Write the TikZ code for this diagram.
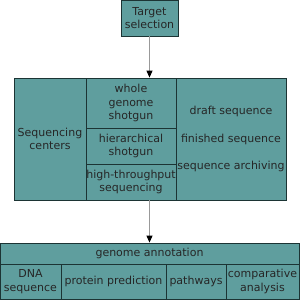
\documentclass[tikz,border=0pt]{standalone}
\usepackage{fontspec}
\setmainfont{DejaVu Sans}
\usepackage{xcolor}
\usetikzlibrary{arrows.meta,positioning}
\definecolor{boxfill}{RGB}{95,158,158}
\definecolor{boxline}{RGB}{28,52,52}

\begin{document}
\begin{tikzpicture}[
  x=1pt, y=-1pt,
  every node/.style={font=\fontsize{11}{13.5}\selectfont, text=black!85},
  cell/.style={draw=boxline, fill=boxfill, line width=0.8pt, inner sep=0pt,
               align=center, anchor=center},
  arr/.style={draw=gray!80, line width=1pt,
              -{Triangle[length=7pt, width=6pt, black]}},
]
\useasboundingbox (0,0) rectangle (300,301);
% top
\node[cell, minimum width=57, minimum height=36] (target) at (149.5,18) {Target\\selection};
% sequencing block
\node[cell, minimum width=72, minimum height=122] (centers) at (50,139) {Sequencing\\centers};
\node[cell, minimum width=90, minimum height=50] (wgs) at (131,103) {whole\\genome\\shotgun};
\node[cell, minimum width=90, minimum height=36] (hier) at (131,146) {hierarchical\\shotgun};
\node[cell, minimum width=90, minimum height=36] (htp) at (131,182) {high-throughput\\sequencing};
\node[cell, minimum width=110, minimum height=122] (archive) at (231,139)
  {draft sequence\\[14pt]finished sequence\\[14pt]sequence archiving};
% annotation block
\node[cell, minimum width=299, minimum height=21] (annot) at (149.5,253.5) {genome annotation};
\node[cell, minimum width=61, minimum height=35] (dna) at (30.5,281.5) {DNA\\sequence};
\node[cell, minimum width=105, minimum height=35] (protein) at (113.5,281.5) {protein prediction};
\node[cell, minimum width=60, minimum height=35] (pathways) at (196,281.5) {pathways};
\node[cell, minimum width=73, minimum height=35] (compare) at (262.5,281.5) {comparative\\analysis};

\draw[arr] (target.south) -- (target.south |- wgs.north);
\draw[arr] (target.south |- htp.south) -- (annot.north);
\end{tikzpicture}
\end{document}
